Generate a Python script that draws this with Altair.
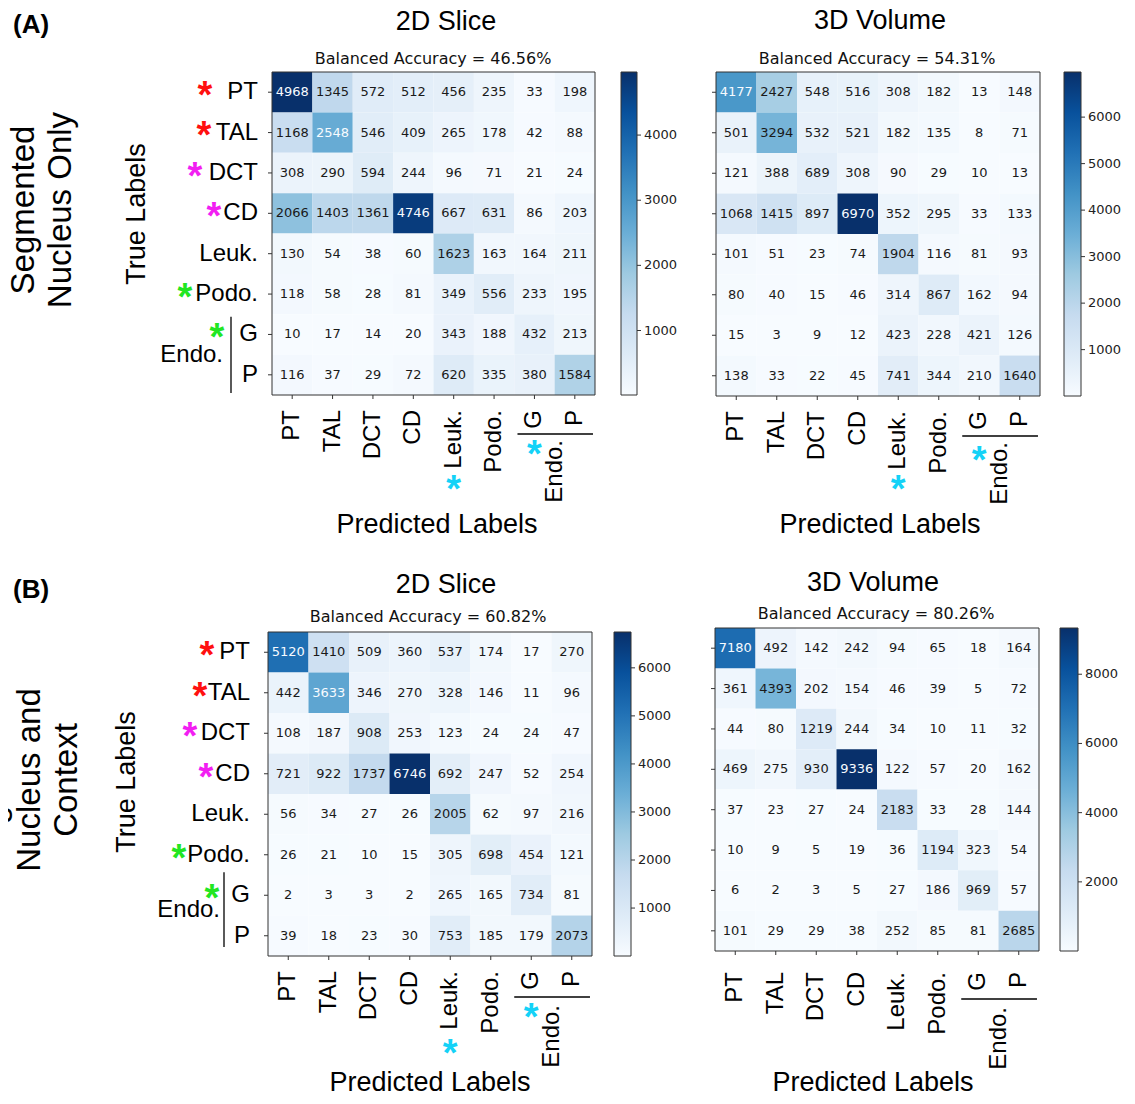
import altair as alt
import pandas as pd

# ---------------- data ----------------
LABELS = ["PT", "TAL", "DCT", "CD", "Leuk.", "Podo.", "G", "P"]

A2 = [[4968, 1345, 572, 512, 456, 235, 33, 198],
      [1168, 2548, 546, 409, 265, 178, 42, 88],
      [308, 290, 594, 244, 96, 71, 21, 24],
      [2066, 1403, 1361, 4746, 667, 631, 86, 203],
      [130, 54, 38, 60, 1623, 163, 164, 211],
      [118, 58, 28, 81, 349, 556, 233, 195],
      [10, 17, 14, 20, 343, 188, 432, 213],
      [116, 37, 29, 72, 620, 335, 380, 1584]]

A3 = [[4177, 2427, 548, 516, 308, 182, 13, 148],
      [501, 3294, 532, 521, 182, 135, 8, 71],
      [121, 388, 689, 308, 90, 29, 10, 13],
      [1068, 1415, 897, 6970, 352, 295, 33, 133],
      [101, 51, 23, 74, 1904, 116, 81, 93],
      [80, 40, 15, 46, 314, 867, 162, 94],
      [15, 3, 9, 12, 423, 228, 421, 126],
      [138, 33, 22, 45, 741, 344, 210, 1640]]

B2 = [[5120, 1410, 509, 360, 537, 174, 17, 270],
      [442, 3633, 346, 270, 328, 146, 11, 96],
      [108, 187, 908, 253, 123, 24, 24, 47],
      [721, 922, 1737, 6746, 692, 247, 52, 254],
      [56, 34, 27, 26, 2005, 62, 97, 216],
      [26, 21, 10, 15, 305, 698, 454, 121],
      [2, 3, 3, 2, 265, 165, 734, 81],
      [39, 18, 23, 30, 753, 185, 179, 2073]]

B3 = [[7180, 492, 142, 242, 94, 65, 18, 164],
      [361, 4393, 202, 154, 46, 39, 5, 72],
      [44, 80, 1219, 244, 34, 10, 11, 32],
      [469, 275, 930, 9336, 122, 57, 20, 162],
      [37, 23, 27, 24, 2183, 33, 28, 144],
      [10, 9, 5, 19, 36, 1194, 323, 54],
      [6, 2, 3, 5, 27, 186, 969, 57],
      [101, 29, 29, 38, 252, 85, 81, 2685]]

BAL_ACC = ["46.56", "54.31", "60.82", "80.26"]
PANEL_TITLES = ["2D Slice", "3D Volume", "2D Slice", "3D Volume"]
CB_TICKS = [[1000, 2000, 3000, 4000],
            [1000, 2000, 3000, 4000, 5000, 6000],
            [1000, 2000, 3000, 4000, 5000, 6000],
            [2000, 4000, 6000, 8000]]

# ---------------- styles ----------------
BLUES = ["#f7fbff", "#deebf7", "#c6dbef", "#9ecae1", "#6baed6",
         "#4292c6", "#2171b5", "#08519c", "#08306b"]
DARK_TXT = "#1a1a1a"
LIGHT_TXT = "#f7fbff"
FRAME = "#333333"
RED, MAG, GREEN, CYAN = "#ff1010", "#f21ef2", "#22e622", "#14d2f7"
SANS = "Liberation Sans"
MPL = "DejaVu Sans"
OX, OY = 8, 8
W, H = 1119, 1088
STAR_SIZE, STAR_DY = 38, 17

Y_STAR_COLORS = {0: RED, 1: RED, 2: MAG, 3: MAG, 5: GREEN, 6: GREEN}
X_STAR_COLS = [4, 6]

LAY = [
    dict(x0=272, x1=595, y0=72, y1=395, cbx0=621, cbx1=637, tx=446, ty=22, sx=433, sy=59,
         px=437, py=525, lab=15, line=39, endo=45, ylabels=True, ylx=-14,
         tl=(137, 214), endo_y=7.0, brk_x=-41, brk=(6.06, 7.95), endo_x=-49,
         ystar_dx={0: -67, 1: -68, 2: -77, 3: -58, 5: -87, 6: -55},
         xstar_dy={4: 90, 6: 55}),
    dict(x0=716, x1=1040, y0=72, y1=396, cbx0=1064, cbx1=1081, tx=880, ty=21, sx=877, sy=59,
         px=880, py=525, lab=15, line=40, endo=46, ylabels=False,
         xstar_dy={4: 89, 6: 60}),
    dict(x0=268, x1=592, y0=632, y1=956, cbx0=614, cbx1=631, tx=446, ty=585, sx=428, sy=617,
         px=430, py=1083, lab=15, line=41, endo=49, ylabels=True, ylx=-18,
         tl=(127, 782), endo_y=6.86, brk_x=-44, brk=(5.93, 7.78), endo_x=-48,
         ystar_dx={0: -61, 1: -68, 2: -78, 3: -62, 5: -89, 6: -56},
         xstar_dy={4: 93, 6: 57}),
    dict(x0=715, x1=1039, y0=628, y1=951, cbx0=1060, cbx1=1078, tx=873, ty=583, sx=876, sy=614,
         px=873, py=1083, lab=21, line=48, endo=56, ylabels=False,
         xstar_dy={}),
]


def note(text, x, y, size, font=SANS, angle=0, align="center", baseline="middle",
         weight="normal", color="black"):
    return alt.Chart(pd.DataFrame({"t": [text]})).mark_text(
        font=font, fontSize=size, angle=angle, align=align, baseline=baseline,
        fontWeight=weight, color=color
    ).encode(text="t:N", x=alt.value(x - OX), y=alt.value(y - OY))


def panel(mat, L, title, acc, ticks):
    layers = []
    x0, x1, y0, y1 = L["x0"] - OX, L["x1"] - OX, L["y0"] - OY, L["y1"] - OY
    xs = alt.Scale(domain=[0, 8], range=[x0, x1], nice=False, zero=False)
    ys = alt.Scale(domain=[0, 8], range=[y0, y1], nice=False, zero=False)
    flat = [v for row in mat for v in row]
    vmin, vmax = min(flat), max(flat)
    dom = [vmin + i * (vmax - vmin) / 8 for i in range(9)]
    thr = (vmin + vmax) / 2
    df = pd.DataFrame([{"r": r, "c": c, "v": mat[r][c],
                        "tc": LIGHT_TXT if mat[r][c] > thr else DARK_TXT}
                       for r in range(8) for c in range(8)])
    base = alt.Chart(df).transform_calculate(
        c1="datum.c + 1", r1="datum.r + 1", cx="datum.c + 0.5", cy="datum.r + 0.5")
    layers.append(base.mark_rect(strokeWidth=0).encode(
        x=alt.X("c:Q", scale=xs, axis=None), x2="c1:Q",
        y=alt.Y("r:Q", scale=ys, axis=None), y2="r1:Q",
        color=alt.Color("v:Q", scale=alt.Scale(domain=dom, range=BLUES, interpolate="rgb"),
                        legend=None)))
    layers.append(base.mark_text(font=MPL, fontSize=13).encode(
        x=alt.X("cx:Q", scale=xs, axis=None), y=alt.Y("cy:Q", scale=ys, axis=None),
        text=alt.Text("v:Q", format="d"), color=alt.Color("tc:N", scale=None)))
    # frame
    fr = alt.Chart(pd.DataFrame({"lo": [0], "hi": [8]}))
    layers.append(fr.mark_rect(fillOpacity=0, stroke=FRAME, strokeWidth=1).encode(
        x=alt.X("lo:Q", scale=xs, axis=None), x2="hi:Q",
        y=alt.Y("lo:Q", scale=ys, axis=None), y2="hi:Q"))
    # ticks and labels
    tk = alt.Chart(pd.DataFrame({"i": list(range(8)), "lab": LABELS})).transform_calculate(
        k="datum.i + 0.5")
    layers.append(tk.mark_rule(color=FRAME, strokeWidth=1).encode(
        x=alt.X("k:Q", scale=xs, axis=None), y=alt.value(y1), y2=alt.value(y1 + 4)))
    layers.append(tk.mark_rule(color=FRAME, strokeWidth=1).encode(
        y=alt.Y("k:Q", scale=ys, axis=None), x=alt.value(x0 - 4), x2=alt.value(x0)))
    layers.append(tk.mark_text(font=SANS, fontSize=24, angle=270, align="right",
                               baseline="middle").encode(
        x=alt.X("k:Q", scale=xs, axis=None), y=alt.value(y1 + L["lab"]), text="lab:N"))
    # Endo bracket under x labels
    br = alt.Chart(pd.DataFrame({"a": [6.08], "b": [7.95], "m": [7.0]}))
    layers.append(br.mark_rule(color="black", strokeWidth=1.3).encode(
        x=alt.X("a:Q", scale=xs, axis=None), x2="b:Q", y=alt.value(y1 + L["line"])))
    layers.append(br.mark_text(font=SANS, fontSize=24, angle=270, align="right",
                               baseline="middle", text="Endo.").encode(
        x=alt.X("m:Q", scale=xs, axis=None), y=alt.value(y1 + L["endo"])))
    # cyan stars under x labels
    if L["xstar_dy"]:
        xsd = pd.DataFrame([{"cx": c + 0.5, "py": y1 + L["xstar_dy"][c]} for c in X_STAR_COLS])
        layers.append(alt.Chart(xsd).mark_text(font=SANS, fontSize=STAR_SIZE,
                                               fontWeight="bold", baseline="alphabetic",
                                               dy=STAR_DY, color=CYAN, text="*").encode(
            x=alt.X("cx:Q", scale=xs, axis=None), y=alt.Y("py:Q", scale=None)))
    if L["ylabels"]:
        layers.append(tk.mark_text(font=SANS, fontSize=24, align="right",
                                   baseline="middle").encode(
            y=alt.Y("k:Q", scale=ys, axis=None), x=alt.value(x0 + L["ylx"]), text="lab:N"))
        yb = alt.Chart(pd.DataFrame({"a": [L["brk"][0]], "b": [L["brk"][1]],
                                     "m": [L["endo_y"]]}))
        layers.append(yb.mark_rule(color="black", strokeWidth=1.3).encode(
            y=alt.Y("a:Q", scale=ys, axis=None), y2="b:Q", x=alt.value(x0 + L["brk_x"])))
        layers.append(yb.mark_text(font=SANS, fontSize=24, align="right", baseline="middle",
                                   text="Endo.").encode(
            y=alt.Y("m:Q", scale=ys, axis=None), x=alt.value(x0 + L["endo_x"])))
        ysd = pd.DataFrame([{"cy": r + 0.47, "px": x0 + dx, "col": Y_STAR_COLORS[r]}
                            for r, dx in L["ystar_dx"].items()])
        layers.append(alt.Chart(ysd).mark_text(font=SANS, fontSize=STAR_SIZE,
                                               fontWeight="bold", baseline="alphabetic",
                                               dy=STAR_DY, text="*").encode(
            y=alt.Y("cy:Q", scale=ys, axis=None), x=alt.X("px:Q", scale=None),
            color=alt.Color("col:N", scale=None)))
        layers.append(note("True Labels", L["tl"][0], L["tl"][1], 27, angle=270))
    # colorbar
    cbs = alt.Scale(domain=[vmin, vmax], range=[y1, y0], nice=False, zero=False)
    grad = alt.Gradient(gradient="linear",
                        stops=[alt.GradientStop(offset=i / 8, color=c) for i, c in enumerate(BLUES)],
                        x1=0, x2=0, y1=1, y2=0)
    cb = alt.Chart(pd.DataFrame({"lo": [vmin], "hi": [vmax]}))
    layers.append(cb.mark_rect(color=grad, stroke=FRAME, strokeWidth=1).encode(
        x=alt.value(L["cbx0"] - OX), x2=alt.value(L["cbx1"] - OX),
        y=alt.Y("lo:Q", scale=cbs, axis=None), y2="hi:Q"))
    ct = alt.Chart(pd.DataFrame({"t": ticks}))
    layers.append(ct.mark_rule(color=FRAME, strokeWidth=1).encode(
        y=alt.Y("t:Q", scale=cbs, axis=None),
        x=alt.value(L["cbx1"] - OX), x2=alt.value(L["cbx1"] - OX + 4)))
    layers.append(ct.mark_text(font=MPL, fontSize=13, align="left", baseline="middle",
                               color="#222222").encode(
        y=alt.Y("t:Q", scale=cbs, axis=None), x=alt.value(L["cbx1"] - OX + 7),
        text=alt.Text("t:Q", format="d")))
    # titles
    layers.append(note(title, L["tx"], L["ty"], 27))
    layers.append(note("Balanced Accuracy = " + acc + "%", L["sx"], L["sy"], 16, font=MPL,
                       color="#111111"))
    layers.append(note("Predicted Labels", L["px"], L["py"], 27))
    return layers


layers = []
for mat, L, t, a, tks in zip([A2, A3, B2, B3], LAY, PANEL_TITLES, BAL_ACC, CB_TICKS):
    layers += panel(mat, L, t, a, tks)

layers.append(note("(A)", 13, 25, 26, align="left", weight="bold"))
layers.append(note("(B)", 13, 590, 26, align="left", weight="bold"))
layers.append(note("Segmented", 24, 210, 33, angle=270))
layers.append(note("Nucleus Only", 61, 210, 33, angle=270))
layers.append(note("Segmented", -5, 780, 33, angle=270))
layers.append(note("Nucleus and", 30, 780, 33, angle=270))
layers.append(note("Context", 67, 780, 33, angle=270))

chart = alt.layer(*layers).resolve_scale(
    x="independent", y="independent", color="independent"
).properties(
    width=W, height=H, padding=0, autosize=alt.AutoSizeParams(type="none")
).configure_view(strokeWidth=0)

chart.save("out.html", embed_options={"renderer": "svg", "actions": False})
